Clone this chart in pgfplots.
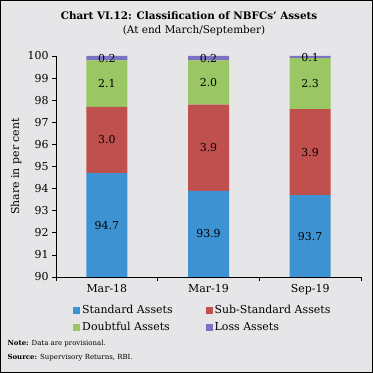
\documentclass[border=0pt]{standalone}
\usepackage{pgfplots}
\pgfplotsset{compat=1.18}
\usepackage{fontspec}
\setmainfont{DejaVu Serif}
\definecolor{bgc}{HTML}{E6E6E8}
\definecolor{cblue}{HTML}{3D92D2}
\definecolor{cred}{HTML}{C0504D}
\definecolor{cgreen}{HTML}{9AC763}
\definecolor{cpurple}{HTML}{7C72C2}
\begin{document}
\begin{tikzpicture}[x=1bp,y=1bp]
\fill[bgc] (0,0) rectangle (373,373);
\draw[line width=1.2bp] (0.6,0.6) rectangle (372.4,372.4);
\node[font=\bfseries\fontsize{10.4}{12}\selectfont] at (189,357) {Chart VI.12: Classification of NBFCs' Assets};
\node[font=\fontsize{10.5}{12}\selectfont] at (194,342) {(At end March/September)};
\begin{axis}[at={(56bp,96bp)}, anchor=south west, scale only axis,
  width=305bp, height=221bp,
  ybar stacked, bar width=41bp,
  xmin=-0.5, xmax=2.5, ymin=90, ymax=100,
  ytick={90,91,...,100},
  xtick={-0.5,0.5,1.5,2.5},
  xticklabels={Mar-18,Mar-19,Sep-19,},
  x tick label as interval,
  axis x line*=bottom, axis y line*=left,
  axis line style={-, black, line width=0.6bp},
  tick style={black, line width=0.6bp},
  tick align=outside, major tick length=4bp,
  ticklabel style={font=\fontsize{11}{12}\selectfont},
  /pgf/number format/assume math mode=true,
  ylabel={Share in per cent},
  ylabel style={font=\fontsize{11}{12}\selectfont, at={(axis description cs:-0.131,0.5)}, anchor=center},
  legend style={at={(axis description cs:0.046,-0.11)}, anchor=north west,
    legend columns=2, draw=none, fill=none,
    font=\fontsize{11}{12}\selectfont,
    row sep=3bp,
    /tikz/every even column/.append style={column sep=31bp},
    cells={anchor=west}},
  legend image code/.code={\fill[#1] (0bp,-3.5bp) rectangle (7bp,3.5bp);},
]
\addplot[fill=cblue, draw=none] coordinates {(0,94.7) (1,93.9) (2,93.7)};
\addplot[fill=cred, draw=none] coordinates {(0,3.0) (1,3.9) (2,3.9)};
\addplot[fill=cgreen, draw=none] coordinates {(0,2.1) (1,2.0) (2,2.3)};
\addplot[fill=cpurple, draw=none] coordinates {(0,0.2) (1,0.2) (2,0.1)};
\legend{Standard Assets, Sub-Standard Assets, Doubtful Assets, Loss Assets}
\end{axis}
\begin{axis}[at={(56bp,96bp)}, anchor=south west, scale only axis,
  width=305bp, height=221bp, hide axis,
  xmin=-0.5, xmax=2.5, ymin=90, ymax=100, clip=false]
\addplot[draw=none, mark=none, nodes near coords, point meta=explicit symbolic,
  nodes near coords align={center},
  every node near coord/.append style={font=\fontsize{11}{12}\selectfont, anchor=center, inner sep=0pt}]
  coordinates {
  (0,92.35)[94.7] (1,91.95)[93.9] (2,91.85)[93.7]
  (0,96.2)[3.0] (1,95.85)[3.9] (2,95.65)[3.9]
  (0,98.75)[2.1] (1,98.8)[2.0] (2,98.75)[2.3]
  (0,99.9)[0.2] (1,99.9)[0.2] (2,99.95)[0.1]
  };
\end{axis}
\node[anchor=west, font=\fontsize{7}{9}\selectfont] at (4,29) {\textbf{Note:} Data are provisional.};
\node[anchor=west, font=\fontsize{7}{9}\selectfont] at (4,15) {\textbf{Source:} Supervisory Returns, RBI.};
\end{tikzpicture}
\end{document}
